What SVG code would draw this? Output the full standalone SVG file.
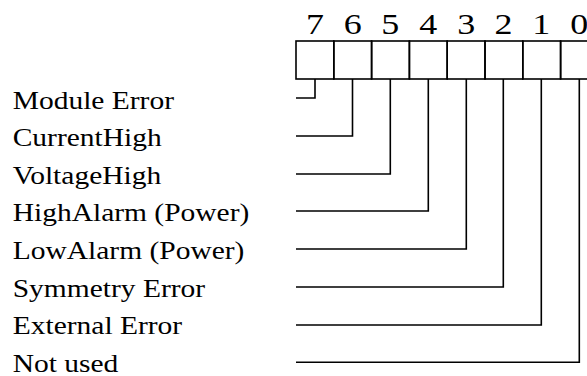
<svg xmlns="http://www.w3.org/2000/svg" width="587" height="376" viewBox="0 0 587 376">
<style>
.box{fill:none;stroke:#000;stroke-width:1.6}
.conn{fill:none;stroke:#000;stroke-width:1.6}
.lbl{font-family:"Liberation Serif","Times New Roman",serif;font-size:25px;fill:#000}
.dig{font-family:"Liberation Serif","Times New Roman",serif;font-size:30.5px;fill:#000;text-anchor:middle}
</style>
<rect width="587" height="376" fill="#fff"/>
<g id="register">
<g id="bit7"><rect class="box" x="296" y="41" width="37.8" height="38"/><text class="dig" transform="translate(315 34.3) scale(1.18 1)">7</text></g>
<g id="bit6"><rect class="box" x="333.8" y="41" width="37.8" height="38"/><text class="dig" transform="translate(352.7 34.3) scale(1.18 1)">6</text></g>
<g id="bit5"><rect class="box" x="371.6" y="41" width="37.8" height="38"/><text class="dig" transform="translate(390.3 34.3) scale(1.18 1)">5</text></g>
<g id="bit4"><rect class="box" x="409.4" y="41" width="37.8" height="38"/><text class="dig" transform="translate(428.3 34.3) scale(1.18 1)">4</text></g>
<g id="bit3"><rect class="box" x="447.2" y="41" width="37.8" height="38"/><text class="dig" transform="translate(466.3 34.3) scale(1.18 1)">3</text></g>
<g id="bit2"><rect class="box" x="485" y="41" width="37.8" height="38"/><text class="dig" transform="translate(503.5 34.3) scale(1.18 1)">2</text></g>
<g id="bit1"><rect class="box" x="522.8" y="41" width="37.8" height="38"/><text class="dig" transform="translate(541.3 34.3) scale(1.18 1)">1</text></g>
<g id="bit0"><rect class="box" x="560.6" y="41" width="37.8" height="38"/><text class="dig" transform="translate(579.3 34.3) scale(1.18 1)">0</text></g>
</g>
<g id="labels">
<g id="label7"><text class="lbl" transform="translate(12.7 108.5) scale(1.18 1)">Module Error</text></g>
<g id="label6"><text class="lbl" transform="translate(12.7 146.1) scale(1.18 1)">CurrentHigh</text></g>
<g id="label5"><text class="lbl" transform="translate(12.7 183.7) scale(1.18 1)">VoltageHigh</text></g>
<g id="label4"><text class="lbl" transform="translate(12.7 221.3) scale(1.18 1)">HighAlarm (Power)</text></g>
<g id="label3"><text class="lbl" transform="translate(12.7 258.9) scale(1.18 1)">LowAlarm (Power)</text></g>
<g id="label2"><text class="lbl" transform="translate(12.7 296.5) scale(1.18 1)">Symmetry Error</text></g>
<g id="label1"><text class="lbl" transform="translate(12.7 334.1) scale(1.18 1)">External Error</text></g>
<g id="label0"><text class="lbl" transform="translate(12.7 371.7) scale(1.18 1)">Not used</text></g>
</g>
<g id="connectors">
<polyline class="conn" points="315,79 315,98 296,98"/>
<polyline class="conn" points="352.5,79 352.5,136 296,136"/>
<polyline class="conn" points="390.3,79 390.3,174 296,174"/>
<polyline class="conn" points="428.3,79 428.3,211 296,211"/>
<polyline class="conn" points="466.3,79 466.3,249 296,249"/>
<polyline class="conn" points="503.3,79 503.3,287 296,287"/>
<polyline class="conn" points="541.3,79 541.3,325 296,325"/>
<polyline class="conn" points="579.3,79 579.3,362.3 296,362.3"/>
</g>
</svg>
